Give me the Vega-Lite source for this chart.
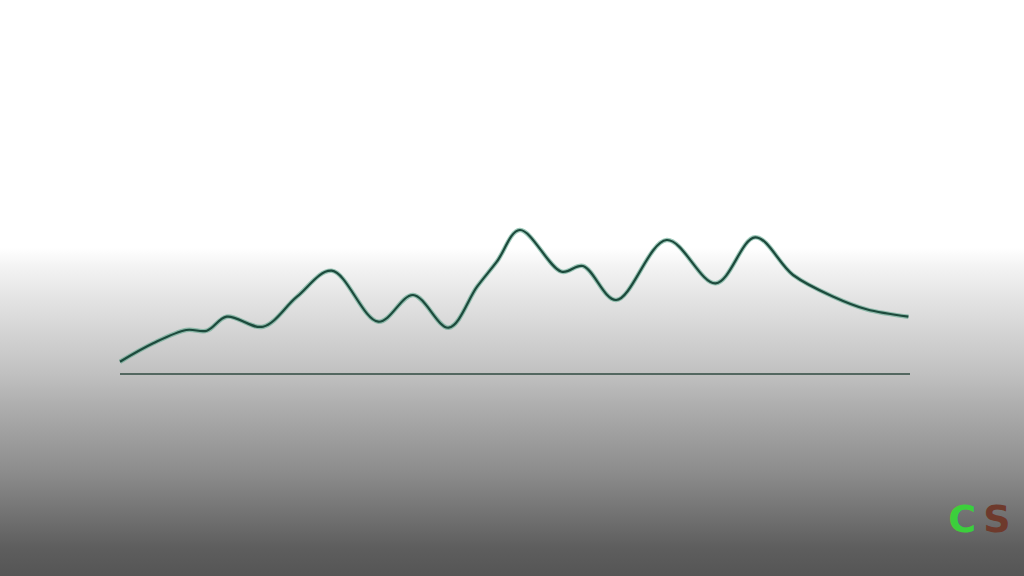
{
  "$schema": "https://vega.github.io/schema/vega-lite/v6.json",
  "width": 1024,
  "height": 576,
  "autosize": {"type": "fit", "contains": "padding"},
  "padding": 0,
  "background": "#ffffff",
  "config": {
    "view": {
      "stroke": null,
      "fill": {
        "gradient": "linear", "x1": 0, "y1": 0, "x2": 0, "y2": 1,
        "stops": [
          {"offset": 0, "color": "#ffffff"},
          {"offset": 0.43, "color": "#ffffff"},
          {"offset": 0.47, "color": "#f1f1f1"},
          {"offset": 0.55, "color": "#dbdbdb"},
          {"offset": 0.65, "color": "#c0c0c0"},
          {"offset": 0.71, "color": "#acacac"},
          {"offset": 0.82, "color": "#8c8c8c"},
          {"offset": 0.95, "color": "#5e5e5e"},
          {"offset": 1, "color": "#555555"}
        ]
      }
    }
  },
  "datasets": {
    "curve": [
      {"t": 0, "v": 12.3},
      {"t": 4.2, "v": 30.7},
      {"t": 8.4, "v": 44},
      {"t": 11.0, "v": 43.3},
      {"t": 13.5, "v": 57.3},
      {"t": 18.1, "v": 47.3},
      {"t": 22.4, "v": 77.3},
      {"t": 26.8, "v": 103.3},
      {"t": 32.7, "v": 52.3},
      {"t": 37.1, "v": 79},
      {"t": 41.6, "v": 46.3},
      {"t": 45.2, "v": 87.3},
      {"t": 47.7, "v": 112.3},
      {"t": 50.6, "v": 144},
      {"t": 55.9, "v": 102.3},
      {"t": 58.6, "v": 108},
      {"t": 62.8, "v": 74},
      {"t": 69.2, "v": 134},
      {"t": 75.4, "v": 90.7},
      {"t": 80.4, "v": 136.7},
      {"t": 85.2, "v": 99},
      {"t": 90.3, "v": 77.3},
      {"t": 94.5, "v": 64.7},
      {"t": 99.8, "v": 57.3}
    ],
    "base": [{"t0": 0, "t1": 100, "v": 0}],
    "logo": [
      {"t": 106.6, "v": -147, "label": "C", "part": "c"},
      {"t": 111.0, "v": -147, "label": "S", "part": "s"}
    ]
  },
  "layer": [
    {
      "data": {"name": "base"},
      "mark": {"type": "rule", "color": "#2f4a40", "strokeWidth": 1.4},
      "encoding": {
        "x": {"field": "t0", "type": "quantitative", "scale": {"domain": [-15.19, 114.43], "nice": false, "zero": false}, "axis": null},
        "x2": {"field": "t1"},
        "y": {"field": "v", "type": "quantitative", "scale": {"domain": [-202, 374], "nice": false, "zero": false}, "axis": null}
      }
    },
    {
      "data": {"name": "curve"},
      "mark": {"type": "line", "interpolate": "catmull-rom", "color": "#4f9c82", "strokeWidth": 4.5, "opacity": 0.55},
      "encoding": {
        "x": {"field": "t", "type": "quantitative"},
        "y": {"field": "v", "type": "quantitative"}
      }
    },
    {
      "data": {"name": "curve"},
      "mark": {"type": "line", "interpolate": "catmull-rom", "color": "#1c4a3c", "strokeWidth": 2.2},
      "encoding": {
        "x": {"field": "t", "type": "quantitative"},
        "y": {"field": "v", "type": "quantitative"}
      }
    },
    {
      "data": {"name": "logo"},
      "mark": {"type": "text", "fontSize": 38, "fontWeight": "bold", "font": "DejaVu Sans", "baseline": "middle", "align": "center"},
      "encoding": {
        "x": {"field": "t", "type": "quantitative"},
        "y": {"field": "v", "type": "quantitative"},
        "text": {"field": "label"},
        "color": {"field": "part", "type": "nominal", "scale": {"domain": ["c", "s"], "range": ["#3ccf3c", "#6e3a2c"]}, "legend": null}
      }
    }
  ]
}
